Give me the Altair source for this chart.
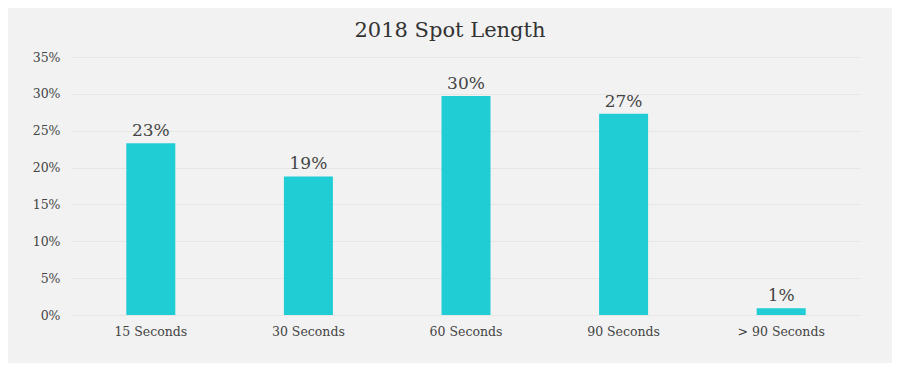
import altair as alt
import pandas as pd

categories = ["15 Seconds", "30 Seconds", "60 Seconds", "90 Seconds", "> 90 Seconds"]
values = [0.233, 0.188, 0.297, 0.273, 0.009]
labels = ["23%", "19%", "30%", "27%", "1%"]

df = pd.DataFrame({"cat": categories, "val": values, "lab": labels})

FONT = "DejaVu Serif"
TXT = "#444444"

base = alt.Chart(df).encode(
    x=alt.X("cat:N", sort=categories, title=None,
            scale=alt.Scale(paddingInner=0, paddingOuter=0),
            axis=alt.Axis(labelAngle=0, ticks=False, domain=False, labelPadding=10,
                          labelFont=FONT, labelFontSize=12.5, labelColor=TXT)),
    y=alt.Y("val:Q", title=None,
            scale=alt.Scale(domain=[0, 0.35]),
            axis=alt.Axis(format=".0%", values=[0, 0.05, 0.1, 0.15, 0.2, 0.25, 0.3, 0.35],
                          ticks=False, domain=False, labelPadding=12,
                          labelFont=FONT, labelFontSize=12.5, labelColor=TXT,
                          gridColor="#e6e6e6", gridWidth=1)),
)

bars = base.mark_bar(color="#20cdd5", width=49)
text = base.mark_text(dy=-12, font=FONT, fontSize=17, color=TXT).encode(text="lab:N")

chart = (bars + text).properties(
    width=788, height=258,
    background="#f2f2f2",
    autosize=alt.AutoSizeParams(type="none"),
    padding={"left": 64, "top": 49, "right": 32, "bottom": 48},
    title=alt.TitleParams("2018 Spot Length", font=FONT, fontSize=21, fontWeight="normal",
                          color="#333333", offset=10, dx=-16, anchor="middle"),
).configure_view(stroke=None)

chart.save("out.html", embed_options={"renderer": "svg", "actions": False})
